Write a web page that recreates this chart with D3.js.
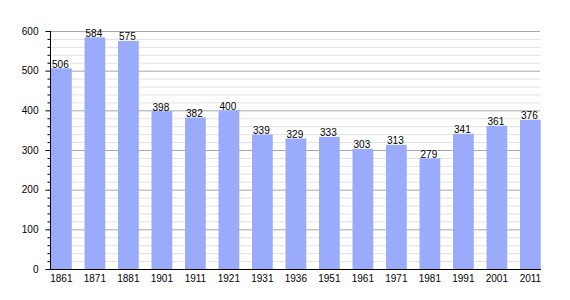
<!DOCTYPE html>
<html>
<head>
<meta charset="utf-8">
<script src="https://cdn.jsdelivr.net/npm/d3@7"></script>
<style>
  body { margin: 0; background: #fff; }
  text { font-family: "Liberation Sans", Arial, sans-serif; }
</style>
</head>
<body>
<div id="chart"></div>
<script>
// census years and population
const years = ["1861", "1871", "1881", "1901", "1911", "1921", "1931", "1936", "1951", "1961", "1971", "1981", "1991", "2001", "2011"];
const population = [506, 584, 575, 398, 382, 400, 339, 329, 333, 303, 313, 279, 341, 361, 376];
const yTicks = [0, 100, 200, 300, 400, 500, 600];

const width = 570, height = 300;
const mLeft = 50, mRight = 540, mTop = 31, mBottom = 269;

const svg = d3.select("#chart").append("svg")
    .attr("width", width)
    .attr("height", height);

// one band per census, bar sits at the left of its band
const x = d3.scaleBand()
    .domain(years)
    .range([mLeft, mLeft + 15 * 33.5])
    .padding(0);
const barW = x.bandwidth() * 0.62;

const y = d3.scaleLinear()
    .domain([0, 600])
    .range([mBottom, mTop]);

// soft edges on bars
const defs = svg.append("defs");
defs.append("filter").attr("id", "soft")
    .append("feGaussianBlur").attr("stdDeviation", "0.5 0");

// minor grid
svg.append("g")
    .selectAll("line")
    .data(d3.range(20, 600, 20).filter(v => v % 100 != 0))
    .enter().append("line")
    .attr("x1", mLeft).attr("x2", mRight)
    .attr("y1", d => y(d) + 0.5).attr("y2", d => y(d) + 0.5)
    .attr("stroke", "#e2e2e2");

// major grid
svg.append("g")
    .selectAll("line")
    .data(yTicks.slice(1))
    .enter().append("line")
    .attr("x1", mLeft).attr("x2", mRight)
    .attr("y1", d => y(d) + 0.5).attr("y2", d => y(d) + 0.5)
    .attr("stroke", "#a8a8a8");

// bars
svg.append("g")
    .attr("filter", "url(#soft)")
    .selectAll("rect")
    .data(population)
    .enter().append("rect")
    .attr("x", (d, i) => x(years[i]) + 1)
    .attr("y", d => y(d))
    .attr("width", barW)
    .attr("height", d => y(0) - y(d))
    .attr("fill", "#9aabfb");

// value labels
svg.append("g")
    .selectAll("text")
    .data(population)
    .enter().append("text")
    .attr("x", (d, i) => x(years[i]) + barW / 2)
    .attr("y", d => y(d) - 0.5)
    .attr("text-anchor", "middle")
    .attr("font-size", 10)
    .attr("fill", "#000")
    .text(d => d);

// y axis
const yAxis = svg.append("g")
    .attr("transform", `translate(${mLeft + 0.5},0)`)
    .call(d3.axisLeft(y).tickValues(yTicks).tickSize(5).tickPadding(7).tickFormat(d3.format("d")));
yAxis.select(".domain").attr("d", `M0,${mTop}V${mBottom + 0.5}`).attr("stroke", "#000");
yAxis.selectAll("text").attr("font-size", 10).attr("font-family", "'Liberation Sans', Arial, sans-serif").attr("fill", "#000");
yAxis.selectAll(".tick line").attr("stroke", "#000");

// minor ticks
yAxis.append("g")
    .selectAll("line")
    .data(d3.range(20, 600, 20).filter(v => v % 100 != 0))
    .enter().append("line")
    .attr("x1", -3).attr("x2", 0)
    .attr("y1", d => y(d) + 0.5).attr("y2", d => y(d) + 0.5)
    .attr("stroke", "#000");

// x axis
svg.append("line")
    .attr("x1", mLeft).attr("x2", mRight + 1)
    .attr("y1", mBottom + 0.5).attr("y2", mBottom + 0.5)
    .attr("stroke", "#000");

svg.append("g")
    .selectAll("text")
    .data(years)
    .enter().append("text")
    .attr("x", d => x(d) + 1 + barW / 2)
    .attr("y", mBottom + 13)
    .attr("text-anchor", "middle")
    .attr("font-size", 10)
    .attr("fill", "#000")
    .text(d => d);
</script>
</body>
</html>
